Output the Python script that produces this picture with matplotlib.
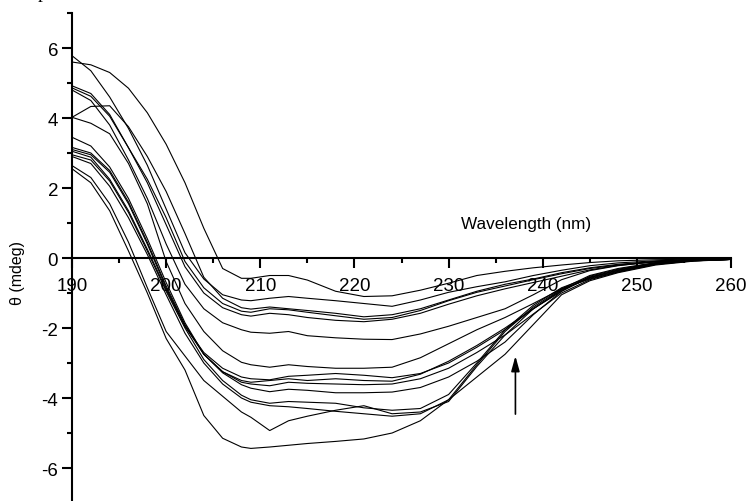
import matplotlib
matplotlib.use('Agg')
import matplotlib.pyplot as plt
from matplotlib.ticker import MultipleLocator

plt.rcParams['font.family'] = ['Liberation Sans', 'DejaVu Sans']
plt.rcParams['axes.unicode_minus'] = False

# wavelength grid (nm) the spectra were read at
wavelength = [190, 192, 194, 196, 198, 200, 202, 204, 206, 208, 209, 211, 213, 215,
              218, 221, 224, 227, 230, 233, 236, 239, 242, 245, 248, 252, 256, 260]

# upper group of spectra (shallow minima)
curve_a1 = [5.60, 5.52, 5.30, 4.85, 4.15, 3.25, 2.15, 0.85, -0.30, -0.58, -0.58, -0.50, -0.50, -0.63,
            -0.95, -1.10, -1.08, -0.92, -0.72, -0.50, -0.38, -0.28, -0.20, -0.13, -0.08, -0.05, -0.03, -0.03]
curve_a2 = [5.78, 5.35, 4.60, 3.70, 2.65, 1.40, 0.15, -0.60, -1.05, -1.20, -1.22, -1.15, -1.10, -1.15,
            -1.22, -1.30, -1.38, -1.20, -0.98, -0.82, -0.68, -0.50, -0.35, -0.22, -0.14, -0.08, -0.04, -0.03]
curve_r = [4.02, 4.33, 4.35, 3.75, 2.90, 1.90, 0.70, -0.55, -1.15, -1.42, -1.46, -1.40, -1.45, -1.50,
           -1.58, -1.68, -1.62, -1.45, -1.20, -0.95, -0.75, -0.60, -0.42, -0.28, -0.18, -0.10, -0.05, -0.03]
curve_b = [4.92, 4.70, 4.10, 3.15, 2.25, 1.15, -0.10, -0.85, -1.30, -1.52, -1.55, -1.45, -1.48, -1.55,
           -1.65, -1.75, -1.70, -1.50, -1.22, -0.98, -0.80, -0.62, -0.45, -0.30, -0.20, -0.10, -0.05, -0.03]
curve_c = [4.86, 4.62, 4.05, 3.15, 2.15, 0.95, -0.25, -1.00, -1.42, -1.62, -1.66, -1.58, -1.62, -1.70,
           -1.78, -1.82, -1.75, -1.58, -1.32, -1.08, -0.88, -0.70, -0.52, -0.34, -0.21, -0.11, -0.05, -0.03]
curve_e = [4.80, 4.50, 3.80, 2.80, 1.70, 0.40, -0.75, -1.45, -1.85, -2.05, -2.12, -2.15, -2.10, -2.22,
           -2.28, -2.32, -2.33, -2.17, -1.95, -1.70, -1.45, -1.05, -0.62, -0.36, -0.22, -0.10, -0.05, -0.03]

# lower group of spectra (deep minima)
curve_d1 = [2.55, 2.15, 1.35, 0.20, -1.00, -2.30, -3.20, -4.50, -5.15, -5.40, -5.44, -5.40, -5.35, -5.30,
            -5.24, -5.17, -5.00, -4.65, -4.05, -3.40, -2.75, -1.90, -1.05, -0.65, -0.42, -0.20, -0.09, -0.04]
curve_d2 = [2.64, 2.30, 1.55, 0.45, -0.85, -2.10, -2.80, -3.50, -3.95, -4.40, -4.55, -4.93, -4.65, -4.52,
            -4.35, -4.22, -4.45, -4.40, -4.10, -3.10, -2.20, -1.45, -0.90, -0.58, -0.38, -0.17, -0.08, -0.04]
curve_d3 = [2.90, 2.70, 2.05, 1.15, 0.10, -1.05, -2.15, -3.00, -3.60, -4.00, -4.12, -4.22, -4.25, -4.30,
            -4.38, -4.45, -4.52, -4.45, -4.05, -3.05, -2.10, -1.40, -0.88, -0.60, -0.40, -0.18, -0.08, -0.04]
curve_d4 = [2.95, 2.80, 2.20, 1.30, 0.20, -0.95, -2.00, -2.90, -3.50, -3.92, -4.05, -4.15, -4.10, -4.12,
            -4.15, -4.28, -4.35, -4.30, -3.90, -3.00, -2.05, -1.35, -0.85, -0.55, -0.36, -0.16, -0.07, -0.04]
curve_d5 = [3.05, 2.88, 2.25, 1.35, 0.25, -0.90, -1.95, -2.75, -3.28, -3.62, -3.72, -3.82, -3.75, -3.78,
            -3.85, -3.85, -3.83, -3.70, -3.40, -2.95, -2.40, -1.62, -0.95, -0.55, -0.34, -0.15, -0.07, -0.04]
curve_d6 = [4.02, 3.85, 3.55, 2.70, 1.55, -0.10, -1.30, -2.10, -2.65, -2.98, -3.05, -3.12, -3.05, -3.10,
            -3.15, -3.15, -3.12, -2.85, -2.45, -2.05, -1.70, -1.30, -0.88, -0.50, -0.30, -0.13, -0.06, -0.04]
curve_d7 = [3.10, 2.95, 2.45, 1.55, 0.40, -0.85, -1.95, -2.70, -3.15, -3.40, -3.45, -3.48, -3.38, -3.35,
            -3.30, -3.35, -3.42, -3.30, -3.00, -2.55, -2.05, -1.45, -0.95, -0.52, -0.32, -0.14, -0.06, -0.04]
curve_d8 = [3.16, 3.00, 2.50, 1.60, 0.45, -0.80, -1.90, -2.75, -3.25, -3.50, -3.55, -3.50, -3.45, -3.50,
            -3.45, -3.50, -3.52, -3.32, -2.95, -2.50, -2.00, -1.45, -0.92, -0.56, -0.35, -0.15, -0.07, -0.04]
curve_d9 = [3.45, 3.20, 2.60, 1.70, 0.55, -0.70, -1.85, -2.75, -3.25, -3.55, -3.60, -3.65, -3.55, -3.58,
            -3.60, -3.62, -3.60, -3.45, -3.15, -2.70, -2.20, -1.60, -1.00, -0.62, -0.40, -0.18, -0.08, -0.04]

curves = [curve_a1, curve_a2, curve_r, curve_b, curve_c, curve_e,
          curve_d1, curve_d2, curve_d3, curve_d4, curve_d5, curve_d6,
          curve_d7, curve_d8, curve_d9]

# arrow marking the trend
arrow_x = 237.1
arrow_from = -4.46
arrow_to = -2.8


def main():
  fig = plt.figure(figsize=(7.47, 5.02), dpi=100)
  ax = fig.add_axes([0.0964, -0.004, 0.8822, 0.9761])

  for c in curves:
    ax.plot(wavelength, c, color='black', lw=0.8)

  ax.set_xlim(190, 260)
  ax.set_ylim(-7, 7)
  ax.spines['right'].set_visible(False)
  ax.spines['top'].set_visible(False)
  ax.spines['bottom'].set_position(('data', 0))
  ax.spines['left'].set_linewidth(1.5)
  ax.spines['bottom'].set_linewidth(1.5)

  ax.xaxis.set_major_locator(MultipleLocator(10))
  ax.xaxis.set_minor_locator(MultipleLocator(5))
  ax.yaxis.set_major_locator(MultipleLocator(2))
  ax.yaxis.set_minor_locator(MultipleLocator(1))
  ax.tick_params(which='major', direction='out', length=7, width=1.5, labelsize=13.5)
  ax.tick_params(which='minor', direction='out', length=3.5, width=1.5)
  ax.tick_params(axis='x', which='major', pad=7)
  ax.tick_params(axis='y', which='major', pad=3)

  ax.text(238.2, 1.0, 'Wavelength (nm)', ha='center', va='center', fontsize=12.3)
  ax.set_ylabel('\u03b8 (mdeg)', fontsize=11.5)
  ax.yaxis.set_label_coords(-0.071, 0.471)

  ax.annotate('', xy=(arrow_x, arrow_to), xytext=(arrow_x, arrow_from),
              arrowprops=dict(arrowstyle='-|>,head_length=0.9,head_width=0.25',
                              color='black', lw=1.2, shrinkA=0, shrinkB=0))

  # letter cut off by the top edge of the picture
  fig.text(38 / 747, 1.0 + 2 / 502, 'p', family='Liberation Serif', fontsize=14,
           ha='left', va='baseline')

  fig.savefig('out.png', dpi=100)


if __name__ == "__main__":
  main()
